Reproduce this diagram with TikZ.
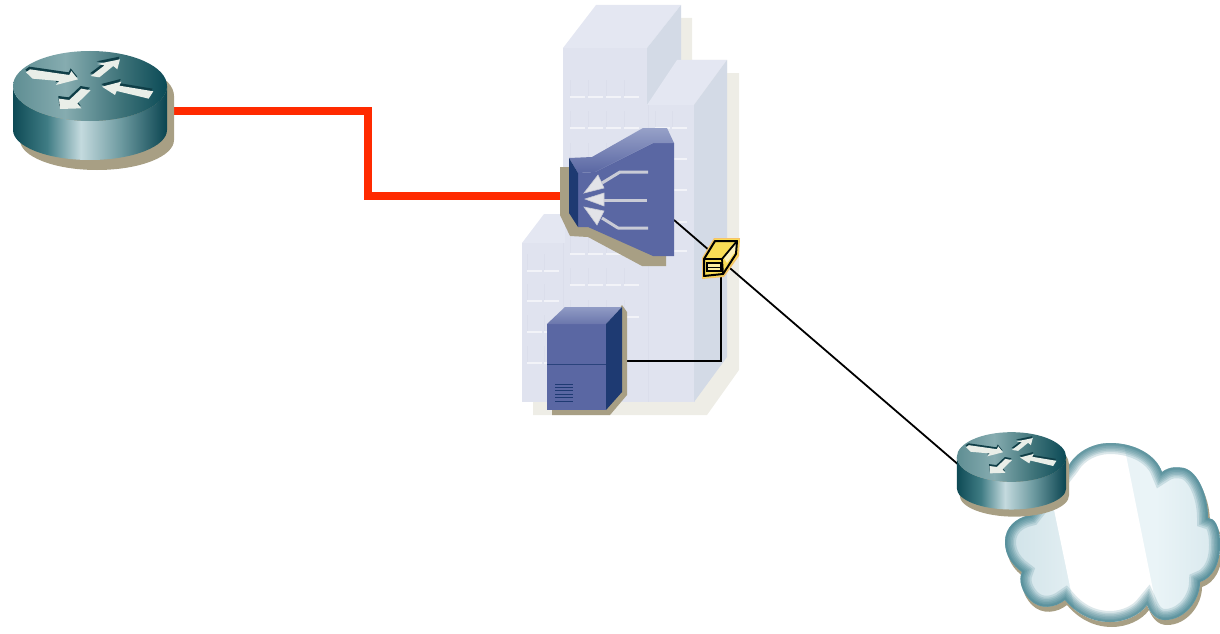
\documentclass[tikz,border=0pt]{standalone}
\usetikzlibrary{calc}
\definecolor{bshadow}{HTML}{EEEDE6}
\definecolor{bfront}{HTML}{E0E3EF}
\definecolor{btop}{HTML}{E4E7F2}
\definecolor{bside}{HTML}{D3DAE6}
\definecolor{bseam}{HTML}{DBDEEB}
\definecolor{bwin}{HTML}{F2F3F8}
\definecolor{tanc}{HTML}{A89F84}
\definecolor{bluefront}{HTML}{5A67A3}
\definecolor{bluetop}{HTML}{8490BE}
\definecolor{bluedark}{HTML}{1E3A72}
\definecolor{redline}{HTML}{FF2A00}
\definecolor{arrowgrey}{HTML}{C9CBD6}
\definecolor{arrowwhite}{HTML}{E2E3E8}
\definecolor{rimteal}{HTML}{2F7583}
\definecolor{yell}{HTML}{F9DC55}
\definecolor{halo}{HTML}{F7C36A}
\definecolor{rA}{HTML}{0E4A55}
\definecolor{rB}{HTML}{3F7C84}
\definecolor{rC}{HTML}{C4DADE}
\definecolor{rD}{HTML}{6D9AA0}
\definecolor{rE}{HTML}{0A4450}
\definecolor{tA}{HTML}{5F8E93}
\definecolor{tB}{HTML}{86ACB0}
\definecolor{tC}{HTML}{3E7379}
\definecolor{tD}{HTML}{0B4A56}
\definecolor{cA}{HTML}{CFE2E8}
\definecolor{cB}{HTML}{E8F2F5}
\definecolor{cC}{HTML}{EAF4F7}
\definecolor{cD}{HTML}{D8E8ED}
\definecolor{arrowdark}{HTML}{0F3E47}
\definecolor{arrowlight}{HTML}{E9EEE8}
\pgfdeclarehorizontalshading{rbody}{100bp}{color(0bp)=(rA); color(25bp)=(rA); color(36bp)=(rB); color(47bp)=(rC); color(60bp)=(rD); color(75bp)=(rE); color(100bp)=(rE)}
\pgfdeclarehorizontalshading{rtop}{100bp}{color(0bp)=(tA); color(25bp)=(tA); color(42bp)=(tB); color(60bp)=(tC); color(75bp)=(tD); color(100bp)=(tD)}
\pgfdeclarehorizontalshading{cloudfill}{100bp}{color(0bp)=(cA); color(25bp)=(cA); color(45bp)=(cB); color(60bp)=(cC); color(75bp)=(cD); color(100bp)=(cD)}
\tikzset{
  shadowfill/.style={fill=bshadow},
  tanfill/.style={fill=tanc},
  win/.style={draw=bwin,line width=1.4pt},
  winv/.style={draw=bseam,line width=0.7pt},
  conn/.style={draw=black,line width=1.8pt},
  wan/.style={draw=redline,line width=8pt,line join=miter},
  fan/.style={draw=arrowgrey,line width=3pt,line join=round},
  tri/.style={fill=arrowwhite,draw=arrowgrey,line width=0.6pt},
}
\newcommand{\routerarrows}[1]{%
  \fill[#1] (78,97) -- (90,88) -- (208,105) -- (214,93) -- (234,118) -- (168,135) -- (178,123) -- (98,116) -- cycle;
  \fill[#1] (360,58) -- (352,88) -- (340,78) -- (298,112) -- (272,108) -- (314,76) -- (292,72) -- cycle;
  \fill[#1] (306,140) -- (364,125) -- (358,137) -- (460,154) -- (446,176) -- (350,153) -- (345,165) -- cycle;
  \fill[#1] (180,207) -- (177,176) -- (208,180) -- (244,146) -- (272,151) -- (232,190) -- (244,205) -- cycle;
}
\newcommand{\routericon}[4]{%
  \begin{scope}[shift={(#1)},scale=#2]
    \fill[tanc,shift={(#3,#4)}] (-77,0) -- (-77,44) arc[start angle=180,end angle=0,x radius=77,y radius=30] -- (77,0) arc[start angle=0,end angle=-180,x radius=77,y radius=35] -- cycle;
    \shade[shading=rbody] (-77,0) -- (-77,44) arc[start angle=180,end angle=0,x radius=77,y radius=30] -- (77,0) arc[start angle=0,end angle=180,x radius=77,y radius=35] -- cycle;
    \shade[shading=rtop] (0,0) ellipse[x radius=77,y radius=35];
    \begin{scope}[shift={(-90,-46)},scale=.3333]
      \begin{scope}[shift={(-2,-8)}]\routerarrows{arrowdark}\end{scope}
      \routerarrows{arrowlight}
    \end{scope}
  \end{scope}
}
\def\cloudpath{(1069,465) .. controls (1078,450) and (1095,443) .. (1110,443)
  .. controls (1135,443) and (1156,455) .. (1162,472)
  .. controls (1170,466) and (1178,467) .. (1184,468)
  .. controls (1198,472) and (1208,495) .. (1208,518)
  .. controls (1214,518) and (1220,525) .. (1220,545)
  .. controls (1220,565) and (1212,578) .. (1200,582)
  .. controls (1200,600) and (1185,620) .. (1165,620)
  .. controls (1155,620) and (1150,612) .. (1147,605)
  .. controls (1140,615) and (1125,622) .. (1110,622)
  .. controls (1090,622) and (1075,612) .. (1065,600)
  .. controls (1055,608) and (1040,610) .. (1030,600)
  .. controls (1022,592) and (1018,580) .. (1022,572)
  .. controls (1012,565) and (1005,555) .. (1005,542)
  .. controls (1005,528) and (1015,518) .. (1030,515)
  -- cycle}
\begin{document}
\begin{tikzpicture}[x=1pt,y=-1pt]
\useasboundingbox (0,0) rectangle (1220,634);
% named connector ends
\coordinate (routerA) at (170,111);
\coordinate (switchW) at (563,196);
\coordinate (switchE) at (674,220);
\coordinate (firewallS) at (721,275);
\coordinate (serverE) at (625,361);
\coordinate (routerB) at (960,466);
% building shadows
\fill[shadowfill] (681,18) -- (692,18) -- (692,60) -- (727,60) -- (727,73) -- (739,73) -- (739,370) -- (707,415) -- (533,415) -- (533,400) -- (681,400) -- cycle;
% tall building
\fill[bfront] (563,48) rectangle (649,402);
\fill[btop] (563,48) -- (596,5) -- (681,5) -- (647,48) -- cycle;
\fill[bside] (647,48) -- (681,5) -- (681,62) -- (647,105) -- cycle;
% right building
\fill[bfront] (648,105) rectangle (694.5,402);
\fill[btop] (647,105) -- (677,60) -- (727,60) -- (694,105) -- cycle;
\fill[bside] (694,105) -- (727,60) -- (727,357) -- (694,402) -- cycle;
% left building
\fill[bfront] (522,243) rectangle (565,402);
\fill[btop] (522,243) -- (544,214) -- (565,214) -- (565,243) -- cycle;
\draw[bseam,line width=.6pt] (563,243) -- (563,402) (648,105) -- (648,402);
% windows
\foreach \y in {97,128,160,191,223,254,285,317}{
  \foreach \x in {570,588,606,624}{
    \draw[winv] (\x,\y-17) -- (\x,\y-1);
    \draw[win] (\x,\y) -- ++(14.5,0);
  }
}
\foreach \y in {128,159,190,222,251}{
  \foreach \x in {655,672}{
    \draw[winv] (\x,\y-17) -- (\x,\y-1);
    \draw[win] (\x,\y) -- ++(14.5,0);
  }
}
\foreach \y in {271,301,332,363}{
  \foreach \x in {527,544}{
    \draw[winv] (\x,\y-17) -- (\x,\y-1);
    \draw[win] (\x,\y) -- ++(14.5,0);
  }
}
% cloud
\fill[tanc,shift={(2,5)}] \cloudpath;
\begin{scope}
  \clip \cloudpath;
  \shade[shading=cloudfill] (1005,443) rectangle (1220,622);
  \fill[white] (1045,440) -- (1123,440) -- (1160,625) -- (1078,625) -- (1053,505) -- cycle;
  \foreach \w in {22,18,15,12,9,6,4}{
    \draw[draw=rimteal,opacity=.17,line width=\w pt] \cloudpath;
  }
\end{scope}
% connectors
\draw[wan] (routerA) -- (368,111) -- (368,196) -- (switchW);
\draw[conn] (switchE) -- (routerB);
\draw[conn] (serverE) -| (firewallS);
% router A and B
\routericon{90,86}{1}{7}{10}
\routericon{1011.5,457}{.71}{4}{10}
% switch
\fill[tanfill] (560,167) -- (569,167) -- (569,213) -- (666,250) -- (666,266) -- (642,266) -- (588,237) -- (570,236) -- (560,215) -- cycle;
\fill[bluefront] (578,173) -- (595,172) -- (653,143) -- (674,143) -- (674,256) -- (653,256) -- (588,227) -- (578,227) -- cycle;
\shade[top color=bluetop!85!white,bottom color=bluefront] (569,158) -- (592,157) -- (643,128) -- (667,128) -- (674,143) -- (653,143) -- (595,172) -- (578,173) -- cycle;
\fill[bluedark] (569,158) -- (578,173) -- (578,227) -- (569,213) -- cycle;
\draw[fan] (602,183) -- (620,172) -- (648,172);
\draw[fan] (604,200) -- (647,200);
\draw[fan] (602,218) -- (618,228) -- (648,228);
\filldraw[tri] (598,175) -- (584,193) -- (604,188) -- cycle;
\filldraw[tri] (585,199) -- (604,193) -- (604,206) -- cycle;
\filldraw[tri] (584,207) -- (604,211) -- (597,225) -- cycle;
% server
\fill[tanfill] (622,305) -- (627,312) -- (627,395) -- (610,415) -- (552,415) -- (552,405) -- cycle;
\fill[bluefront] (547,324) rectangle (606,410);
\shade[top color=bluetop!90!white,bottom color=bluefront!90!white] (547,324) -- (565,307) -- (622,307) -- (606,324) -- cycle;
\fill[bluedark] (606,324) -- (622,307) -- (622,392) -- (606,410) -- cycle;
\draw[bluedark!80!bluefront,line width=.8pt] (547,364) -- (606,364);
\foreach \y in {384,387.4,390.8,394.2,397.6,401}{
  \draw[bluedark,line width=.9pt] (555,\y) -- (573,\y);
}
% firewall
\fill[halo] (702,258) -- (714,238) -- (740,238) -- (739,256) -- (724,277) -- (702,279) -- cycle;
\fill[yell] (703,258) -- (715,239) -- (739,239) -- (738,255) -- (723,276) -- (703,278) -- cycle;
\fill[yell!40!white] (724,258) -- (737,242) -- (737,249) -- (727,263) -- cycle;
\draw[black,line width=2pt,line join=round] (704,259) -- (715,241) -- (737,241) -- (736,254) -- (723,274) -- (704,276) -- cycle;
\draw[black,line width=1.8pt] (704,259) -- (722,259) -- (737,241) (722,259) -- (723,274);
\fill[yell!55!white,draw=black,line width=1.1pt] (707,263) rectangle (721,271);
\draw[black,line width=1pt] (707,267) -- (721,267);
\end{tikzpicture}
\end{document}
